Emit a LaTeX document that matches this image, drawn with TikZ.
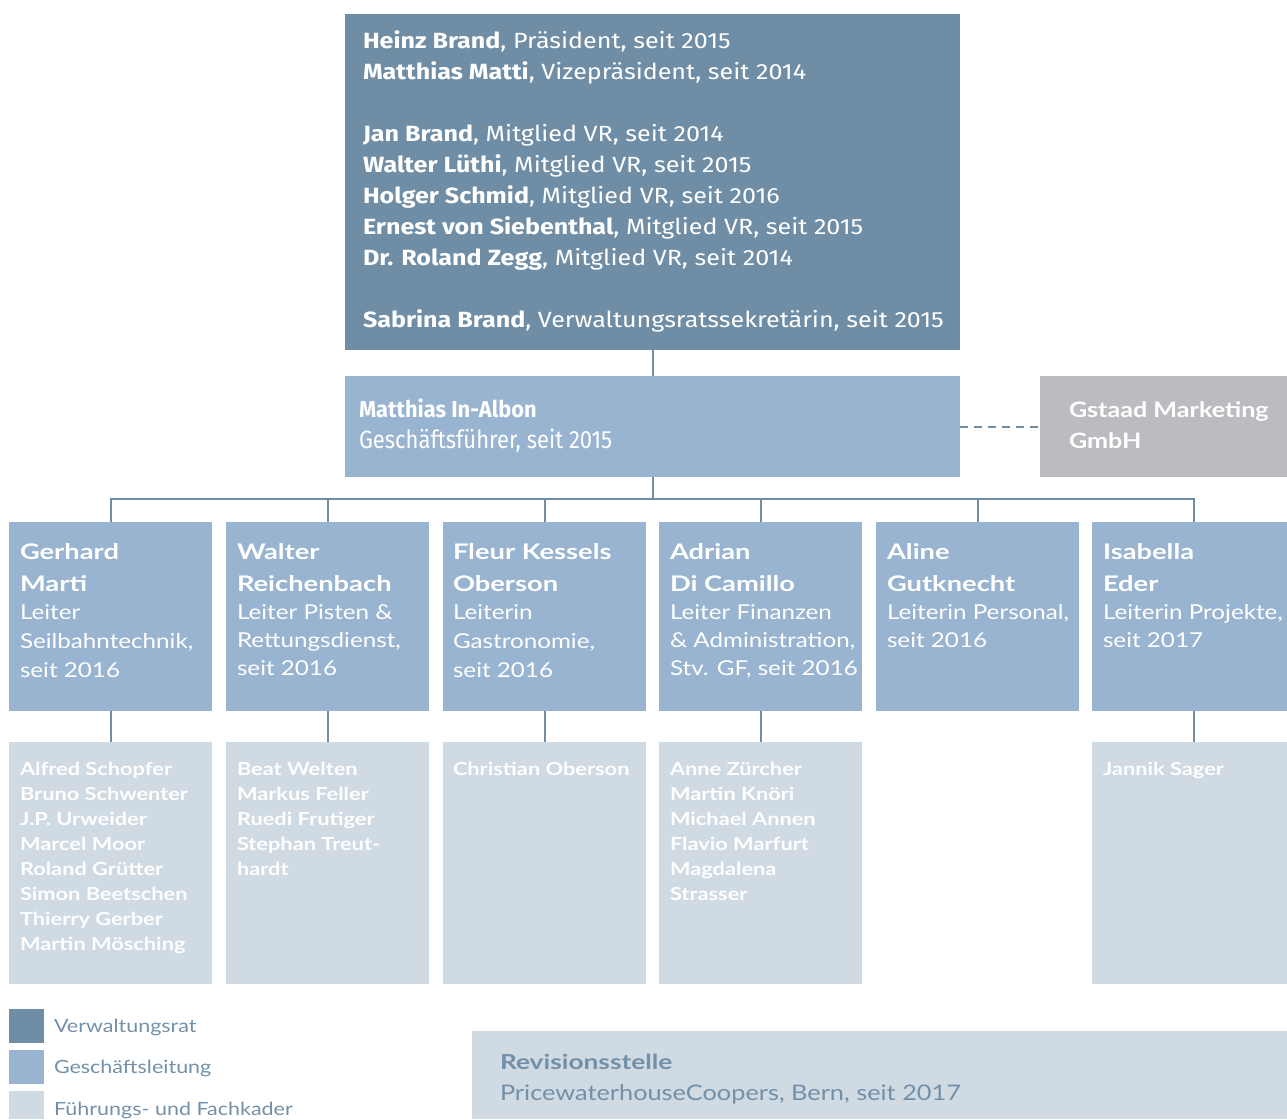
\documentclass[tikz,border=0pt]{standalone}
\usepackage{fontspec}
\setmainfont{Fira Sans}
\newfontfamily\firaw{Fira Sans}[FakeStretch=1.14]
\newfontfamily\firagf{Fira Sans}[FakeStretch=0.95]
\newfontfamily\firagfr{Fira Sans}[FakeStretch=0.88]
\newfontfamily\latoN{Lato}[FakeStretch=1.27]
\newfontfamily\latoR{Lato}[FakeStretch=1.18]
\newfontfamily\latoS{Lato}[FakeStretch=1.21]
\definecolor{cDark}{HTML}{6F8EA6}
\definecolor{cMid}{HTML}{98B4D0}
\definecolor{cLight}{HTML}{CFDAE3}
\definecolor{cGray}{HTML}{BBBCC0}
\definecolor{cTxt}{HTML}{7390A9}
\newcommand\lstack[2]{\vtop{\baselineskip=#1\lineskiplimit=-100pt\relax #2}}
\begin{document}
\begin{tikzpicture}[x=1pt,y=-1pt,
  box/.style={rectangle, inner sep=0pt, outer sep=0pt, draw=none, anchor=north west},
  conn/.style={draw=cDark, line width=2pt},
  txt/.style={anchor=base west, inner sep=0pt, outer sep=0pt, text=white},
  vrfont/.style={font=\firaw\fontsize{22}{31}\selectfont},
  namefont/.style={font=\latoN\bfseries\fontsize{21.5}{31}\selectfont},
  rolefont/.style={font=\latoR\fontsize{20.5}{28.5}\selectfont},
  subfont/.style={font=\latoS\bfseries\fontsize{18}{25}\selectfont},
  legfont/.style={font=\latoR\fontsize{18.2}{25}\selectfont}]
\useasboundingbox (0,0) rectangle (1287,1119);

% ---------- boxes
\node[box, fill=cDark, minimum width=615, minimum height=336] (vr) at (345,14) {};
\node[box, fill=cMid, minimum width=615, minimum height=101] (gf) at (345,376) {};
\node[box, fill=cGray, minimum width=247, minimum height=101] (gm) at (1040,376) {};

\node[box, fill=cMid, minimum width=203, minimum height=189] (c1) at (9,522) {};
\node[box, fill=cMid, minimum width=203, minimum height=189] (c2) at (226,522) {};
\node[box, fill=cMid, minimum width=203, minimum height=189] (c3) at (443,522) {};
\node[box, fill=cMid, minimum width=203, minimum height=189] (c4) at (659,522) {};
\node[box, fill=cMid, minimum width=203, minimum height=189] (c5) at (876,522) {};
\node[box, fill=cMid, minimum width=203, minimum height=189] (c6) at (1092,522) {};

\node[box, fill=cLight, minimum width=203, minimum height=242] (d1) at (9,742) {};
\node[box, fill=cLight, minimum width=203, minimum height=242] (d2) at (226,742) {};
\node[box, fill=cLight, minimum width=203, minimum height=242] (d3) at (443,742) {};
\node[box, fill=cLight, minimum width=203, minimum height=242] (d4) at (659,742) {};
\node[box, fill=cLight, minimum width=203, minimum height=242] (d6) at (1092,742) {};

% ---------- connectors
\draw[conn] (vr.south) -- (gf.north);
\foreach \c in {c1,c2,c3,c4,c5,c6}{
  \draw[conn] (gf.south) -- ++(0,22) -| (\c.north);
}
\foreach \a/\b in {c1/d1,c2/d2,c3/d3,c4/d4,c6/d6}{
  \draw[conn] (\a.south) -- (\b.north);
}
\draw[conn, dash pattern=on 8pt off 6pt] (gf.east) -- (gm.west);

% ---------- texts
\node[txt, vrfont] (vrtext) at (363,48.5) {\lstack{31pt}{%
\hbox{\textbf{Heinz Brand}, Präsident, seit 2015}
\hbox{\textbf{Matthias Matti}, Vizepräsident, seit 2014}
\hbox{}
\hbox{\textbf{Jan Brand}, Mitglied VR, seit 2014}
\hbox{\textbf{Walter Lüthi}, Mitglied VR, seit 2015}
\hbox{\textbf{Holger Schmid}, Mitglied VR, seit 2016}
\hbox{\textbf{Ernest von Siebenthal}, Mitglied VR, seit 2015}
\hbox{\textbf{Dr. Roland Zegg}, Mitglied VR, seit 2014}
\hbox{}
\hbox{\textbf{Sabrina Brand}, Verwaltungsratssekretärin, seit 2015}}};

\node[txt, font=\firagf\bfseries\fontsize{23}{31}\selectfont] (gfname) at (359,417) {Matthias In-Albon};
\node[txt, font=\firagfr\fontsize{25}{31}\selectfont] (gfrole) at (359,448) {Geschäftsführer, seit 2015};
\node[txt, font=\latoR\bfseries\fontsize{21.3}{31}\selectfont] (gmtext) at (1069,417) {\lstack{31.5pt}{%
\hbox{Gstaad Marketing}
\hbox{GmbH}}};

% level 3 names
\node[txt, namefont] (n1) at (20,559) {\lstack{32pt}{\hbox{Gerhard}\hbox{Marti}}};
\node[txt, namefont] (n2) at (237,559) {\lstack{32pt}{\hbox{Walter}\hbox{Reichenbach}}};
\node[txt, namefont] (n3) at (453,559) {\lstack{32pt}{\hbox{Fleur Kessels}\hbox{Oberson}}};
\node[txt, namefont] (n4) at (670,559) {\lstack{32pt}{\hbox{Adrian}\hbox{Di Camillo}}};
\node[txt, namefont] (n5) at (887,559) {\lstack{32pt}{\hbox{Aline}\hbox{Gutknecht}}};
\node[txt, namefont] (n6) at (1103,559) {\lstack{32pt}{\hbox{Isabella}\hbox{Eder}}};
% level 3 roles
\node[txt, rolefont] (r1) at (20,619) {\lstack{29pt}{\hbox{Leiter}\hbox{Seilbahntechnik,}\hbox{seit 2016}}};
\node[txt, rolefont] (r2) at (237,619) {\lstack{28pt}{\hbox{Leiter Pisten \&}\hbox{Rettungsdienst,}\hbox{seit 2016}}};
\node[txt, rolefont] (r3) at (453,619) {\lstack{29pt}{\hbox{Leiterin}\hbox{Gastronomie,}\hbox{seit 2016}}};
\node[txt, rolefont] (r4) at (670,619) {\lstack{28pt}{\hbox{Leiter Finanzen}\hbox{\& Administration,}\hbox{Stv. GF, seit 2016}}};
\node[txt, rolefont] (r5) at (887,619) {\lstack{28pt}{\hbox{Leiterin Personal,}\hbox{seit 2016}}};
\node[txt, rolefont] (r6) at (1103,619) {\lstack{28pt}{\hbox{Leiterin Projekte,}\hbox{seit 2017}}};

% lower boxes
\node[txt, subfont] (s1) at (20,775) {\lstack{25pt}{%
\hbox{Alfred Schopfer}\hbox{Bruno Schwenter}\hbox{J.P. Urweider}\hbox{Marcel Moor}
\hbox{Roland Grütter}\hbox{Simon Beetschen}\hbox{Thierry Gerber}\hbox{Martin Mösching}}};
\node[txt, subfont] (s2) at (237,775) {\lstack{25pt}{%
\hbox{Beat Welten}\hbox{Markus Feller}\hbox{Ruedi Frutiger}\hbox{Stephan Treut-}\hbox{hardt}}};
\node[txt, subfont] (s3) at (453,775) {\lstack{25pt}{\hbox{Christian Oberson}}};
\node[txt, subfont] (s4) at (670,775) {\lstack{25pt}{%
\hbox{Anne Zürcher}\hbox{Martin Knöri}\hbox{Michael Annen}\hbox{Flavio Marfurt}\hbox{Magdalena}\hbox{Strasser}}};
\node[txt, subfont] (s6) at (1103,775) {\lstack{25pt}{\hbox{Jannik Sager}}};

% ---------- legend
\node[box, fill=cDark, minimum width=35, minimum height=34] (l1) at (9,1009) {};
\node[box, fill=cMid, minimum width=35, minimum height=34] (l2) at (9,1050) {};
\node[box, fill=cLight, minimum width=35, minimum height=28] (l3) at (9,1091) {};
\node[txt, text=cTxt, legfont] (lt1) at (54,1032) {Verwaltungsrat};
\node[txt, text=cTxt, legfont] (lt2) at (54,1073) {Geschäftsleitung};
\node[txt, text=cTxt, legfont] (lt3) at (54,1115) {Führungs- und Fachkader};

% ---------- Revisionsstelle
\node[box, fill=cLight, minimum width=815, minimum height=88] (rev) at (472,1031) {};
\node[txt, text=cTxt, font=\latoN\bfseries\fontsize{20.7}{31}\selectfont] (revname) at (500,1069) {Revisionsstelle};
\node[txt, text=cTxt, font=\latoR\fontsize{21.45}{31}\selectfont] (revrole) at (500,1100) {PricewaterhouseCoopers, Bern, seit 2017};
\end{tikzpicture}
\end{document}
